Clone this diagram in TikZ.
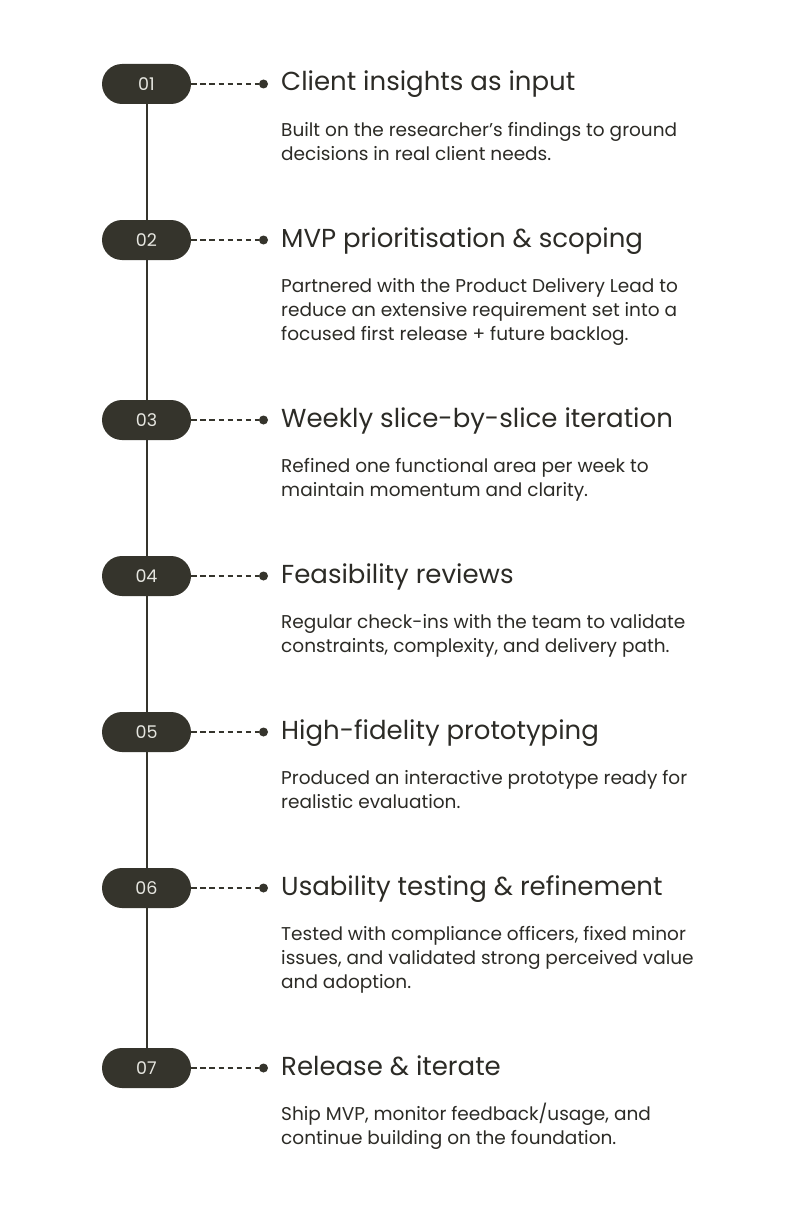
\documentclass[tikz,border=0pt]{standalone}
\usepackage{fontspec}
\setmainfont{Poppins}
\definecolor{ink}{HTML}{35342C}
\definecolor{txt}{HTML}{2C2B26}
\definecolor{pilltxt}{HTML}{E6E6E0}
\tikzset{
  pill/.style={fill=ink, rounded corners=20pt, minimum width=89pt, minimum height=40pt, inner sep=0pt,
    text=pilltxt, font=\fontsize{17.5}{20}\selectfont},
  ttl/.style={anchor=base west, inner sep=0pt, text=txt, font=\fontsize{26}{30}\selectfont},
  body/.style={anchor=base west, inner sep=0pt, text=txt, align=left, font=\fontsize{18.5}{24}\selectfont},
  dashline/.style={ink, line width=1.6pt, dash pattern=on 5.5pt off 3.6pt},
  dotmark/.style={circle, fill=ink, minimum size=9pt, inner sep=0pt},
  spine/.style={ink, line width=2pt}
}
\begin{document}
\begin{tikzpicture}[x=1pt,y=-1pt]
\fill[white] (0,0) rectangle (804,1212);
\useasboundingbox (0,0) rectangle (804,1212);
\coordinate (top) at (146.5,84);
\coordinate (bot) at (146.5,1068);
\draw[spine] (top) -- (bot);
\foreach \n/\y/\k/\t/\b in {
 01/84/1/{Client insights as input}/{Built on the researcher’s findings to ground\\decisions in real client needs.},
 02/240/2/{MVP prioritisation \& scoping}/{Partnered with the Product Delivery Lead to\\reduce an extensive requirement set into a\\focused first release + future backlog.},
 03/420/1/{Weekly slice-by-slice iteration}/{Refined one functional area per week to\\maintain momentum and clarity.},
 04/576/1/{Feasibility reviews}/{Regular check-ins with the team to validate\\constraints, complexity, and delivery path.},
 05/732/1/{High-fidelity prototyping}/{Produced an interactive prototype ready for\\realistic evaluation.},
 06/888/2/{Usability testing \& refinement}/{Tested with compliance officers, fixed minor\\issues, and validated strong perceived value\\and adoption.},
 07/1068/1/{Release \& iterate}/{Ship MVP, monitor feedback/usage, and\\continue building on the foundation.}}{
  \node[pill] (p\n) at (146.5,\y) {\n};
  \node[dotmark] (d\n) at (263.5,\y) {};
  \draw[dashline] (p\n.east) -- (d\n.west);
  \node[ttl] (t\n) at (281,\y+7) {\t};
  \node[body] (b\n) at (281,\y+52.7+24*\k) {\b};
}
\end{tikzpicture}
\end{document}
